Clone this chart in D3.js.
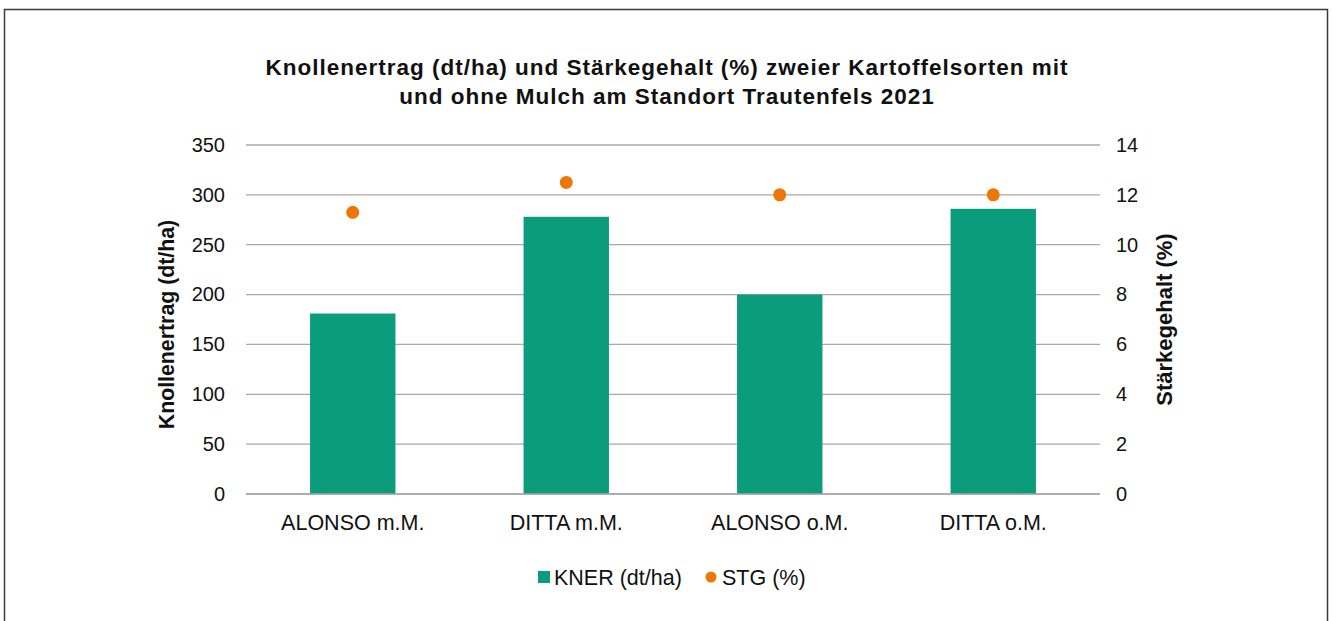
<!DOCTYPE html>
<html>
<head>
<meta charset="utf-8">
<script src="https://cdn.jsdelivr.net/npm/d3@7"></script>
<style>
  body { margin: 0; background: #fff; }
  svg text { font-family: "Liberation Sans", Arial, Helvetica, sans-serif; fill: #111; }
  .grid line { stroke: #a9a9a9; stroke-width: 1.3; }
  .axis path, .axis line { display: none; }
</style>
</head>
<body>
<script>
// chart data
var categories = ['ALONSO m.M.', 'DITTA m.M.', 'ALONSO o.M.', 'DITTA o.M.'];
var knerValues = [181, 278, 200, 286];      // KNER (dt/ha)
var stgValues = [11.3, 12.5, 12.0, 12.0];   // STG (%)
var leftTicks = [0, 50, 100, 150, 200, 250, 300, 350];
var rightTicks = [0, 2, 4, 6, 8, 10, 12, 14];
var titleLines = ['Knollenertrag (dt/ha) und Stärkegehalt (%) zweier Kartoffelsorten mit',
  'und ohne Mulch am Standort Trautenfels 2021'];

var W = 1333, H = 621;
var plot = { left: 246, right: 1100, top: 145, bottom: 494 };
var barColor = '#0b9c7b', dotColor = '#ee7703';

var svg = d3.select('body').append('svg')
  .attr('width', W)
  .attr('height', H);

// outer frame
svg.append('rect')
  .attr('x', 4.5).attr('y', 9.5)
  .attr('width', 1323).attr('height', 640)
  .attr('fill', '#fff')
  .attr('stroke', '#3a3a3a')
  .attr('stroke-width', 1.5);

// title
svg.append('g').selectAll('text')
  .data(titleLines)
  .enter().append('text')
    .attr('x', 667)
    .attr('y', function(d, i) { return 75 + i * 29; })
    .attr('text-anchor', 'middle')
    .style('font-size', '22.5px')
    .style('font-weight', 'bold')
    .style('letter-spacing', '1px')
    .text(function(d) { return d; });

var x = d3.scaleBand()
  .domain(categories)
  .range([plot.left, plot.right])
  .paddingInner(0.6)
  .paddingOuter(0.3);

var yL = d3.scaleLinear().domain([0, 350]).range([plot.bottom, plot.top]);
var yR = d3.scaleLinear().domain([0, 14]).range([plot.bottom, plot.top]);

// gridlines
svg.append('g')
  .attr('class', 'grid')
  .selectAll('line')
  .data(leftTicks)
  .enter().append('line')
    .attr('x1', plot.left).attr('x2', plot.right)
    .attr('y1', function(d) { return yL(d); })
    .attr('y2', function(d) { return yL(d); });

// axes
svg.append('g')
  .attr('class', 'axis')
  .attr('transform', 'translate(' + plot.left + ',0)')
  .call(d3.axisLeft(yL).tickValues(leftTicks).tickSize(0).tickPadding(21))
  .selectAll('text').style('font-size', '20px');

svg.append('g')
  .attr('class', 'axis')
  .attr('transform', 'translate(' + plot.right + ',0)')
  .call(d3.axisRight(yR).tickValues(rightTicks).tickSize(0).tickPadding(16))
  .selectAll('text').style('font-size', '20px');

svg.append('g')
  .attr('class', 'axis')
  .attr('transform', 'translate(0,' + plot.bottom + ')')
  .call(d3.axisBottom(x).tickSize(0).tickPadding(21))
  .selectAll('text').style('font-size', '21.5px');

svg.selectAll('.axis text')
  .style('font-family', '"Liberation Sans", Arial, sans-serif')
  .attr('fill', '#111');

// bars
svg.append('g').selectAll('rect')
  .data(knerValues)
  .enter().append('rect')
    .attr('x', function(d, i) { return x(categories[i]); })
    .attr('width', x.bandwidth())
    .attr('y', function(d) { return yL(d); })
    .attr('height', function(d) { return yL(0) - yL(d); })
    .attr('fill', barColor);

// baseline redrawn over bars
svg.append('line')
  .attr('x1', plot.left).attr('x2', plot.right)
  .attr('y1', yL(0)).attr('y2', yL(0))
  .attr('stroke', '#a9a9a9').attr('stroke-width', 1.3);

// points
svg.append('g').selectAll('circle')
  .data(stgValues)
  .enter().append('circle')
    .attr('cx', function(d, i) { return x(categories[i]) + x.bandwidth() / 2; })
    .attr('cy', function(d) { return yR(d); })
    .attr('r', 6.5)
    .attr('fill', dotColor);

// axis titles
svg.append('text')
  .attr('transform', 'translate(174,' + ((plot.top + plot.bottom) / 2 + 5) + ') rotate(-90)')
  .attr('text-anchor', 'middle')
  .style('font-size', '21.3px')
  .style('font-weight', 'bold')
  .text('Knollenertrag (dt/ha)');

svg.append('text')
  .attr('transform', 'translate(1172,' + ((plot.top + plot.bottom) / 2) + ') rotate(-90)')
  .attr('text-anchor', 'middle')
  .style('font-size', '22px')
  .style('font-weight', 'bold')
  .text('Stärkegehalt (%)');

// legend
var legend = svg.append('g');
legend.append('rect')
  .attr('x', 538).attr('y', 571)
  .attr('width', 12).attr('height', 12)
  .attr('fill', barColor);
legend.append('text')
  .attr('x', 554).attr('y', 585)
  .style('font-size', '21.5px')
  .text('KNER (dt/ha)');
legend.append('circle')
  .attr('cx', 711).attr('cy', 577)
  .attr('r', 5.5)
  .attr('fill', dotColor);
legend.append('text')
  .attr('x', 722).attr('y', 585)
  .style('font-size', '21.5px')
  .text('STG (%)');
</script>
</body>
</html>
